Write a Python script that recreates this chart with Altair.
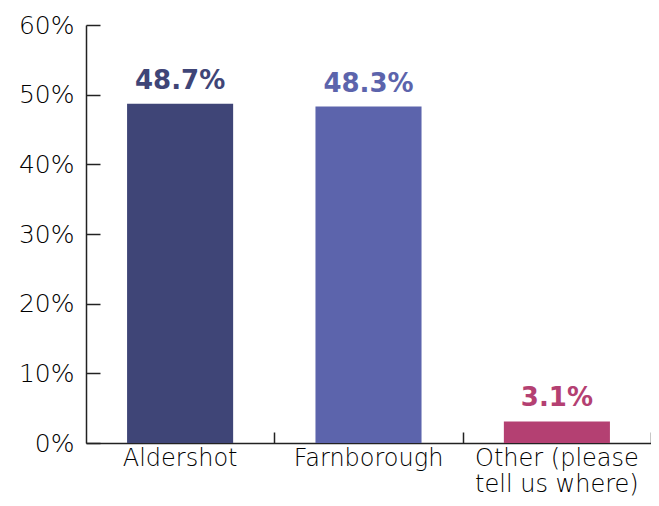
import altair as alt
import pandas as pd

categories = ["Aldershot", "Farnborough", "Other (please\ntell us where)"]
values = [0.487, 0.483, 0.031]
labels = ["48.7%", "48.3%", "3.1%"]
colors = ["#3f4577", "#5c64ac", "#b44072"]
y_ticks = [0, 0.1, 0.2, 0.3, 0.4, 0.5, 0.6]

df = pd.DataFrame({"cat": categories, "val": values, "lab": labels})

W, H = 565, 418
FONT = "DejaVu Sans"
AX = "#222222"
TXT = "#000000"

xscale = alt.Scale(domain=categories, paddingInner=0.437, paddingOuter=0.218)
yscale = alt.Scale(domain=[0, 0.6])
cscale = alt.Scale(domain=categories, range=colors)

base = alt.Chart(df)

bars = base.mark_bar().encode(
    x=alt.X("cat:N", sort=categories, scale=xscale,
            axis=alt.Axis(title=None, labelAngle=0, ticks=False, domain=True,
                          domainColor=AX, domainWidth=1.5,
                          labelExpr="split(datum.label, '\\n')",
                          labelFont=FONT, labelFontSize=24, labelFontWeight=200,
                          labelColor=TXT, labelLineHeight=26, labelPadding=3,
                          labelBaseline="top")),
    y=alt.Y("val:Q", scale=yscale,
            axis=alt.Axis(title=None, values=y_ticks, format=".0%", ticks=False,
                          grid=False, domain=True, domainColor=AX, domainWidth=1.5,
                          labelFont=FONT, labelFontSize=25, labelFontWeight=200,
                          labelColor=TXT, labelPadding=12)),
    color=alt.Color("cat:N", scale=cscale, legend=None),
)

text = base.mark_text(font=FONT, fontSize=26, fontWeight="bold", dy=-15,
                      baseline="alphabetic").encode(
    x=alt.X("cat:N", sort=categories, scale=xscale, axis=None),
    y=alt.Y("val:Q", scale=yscale, axis=None),
    text="lab:N",
    color=alt.Color("cat:N", scale=cscale, legend=None),
)

tick_layer = base.mark_bar(opacity=0).encode(
    x=alt.X("cat:N", sort=categories, scale=xscale,
            axis=alt.Axis(orient="top", offset=-H, labels=False, domain=False,
                          ticks=True, tickOffset=W / 6, tickSize=11,
                          tickColor=AX, tickWidth=1.5, title=None)),
    y=alt.Y("val:Q", scale=yscale,
            axis=alt.Axis(orient="right", offset=-W, labels=False, domain=False,
                          ticks=True, tickSize=14, values=y_ticks, grid=False,
                          tickColor=AX, tickWidth=1.5, title=None)),
)

chart = alt.layer(bars, text, tick_layer).resolve_axis(
    x="independent", y="independent"
).properties(
    width=W, height=H,
    autosize=alt.AutoSizeParams(type="none"),
    padding={"left": 78, "top": 17, "right": 0, "bottom": 55},
).configure_view(stroke=None)

chart.save("out.html", embed_options={"renderer": "svg", "actions": False})
